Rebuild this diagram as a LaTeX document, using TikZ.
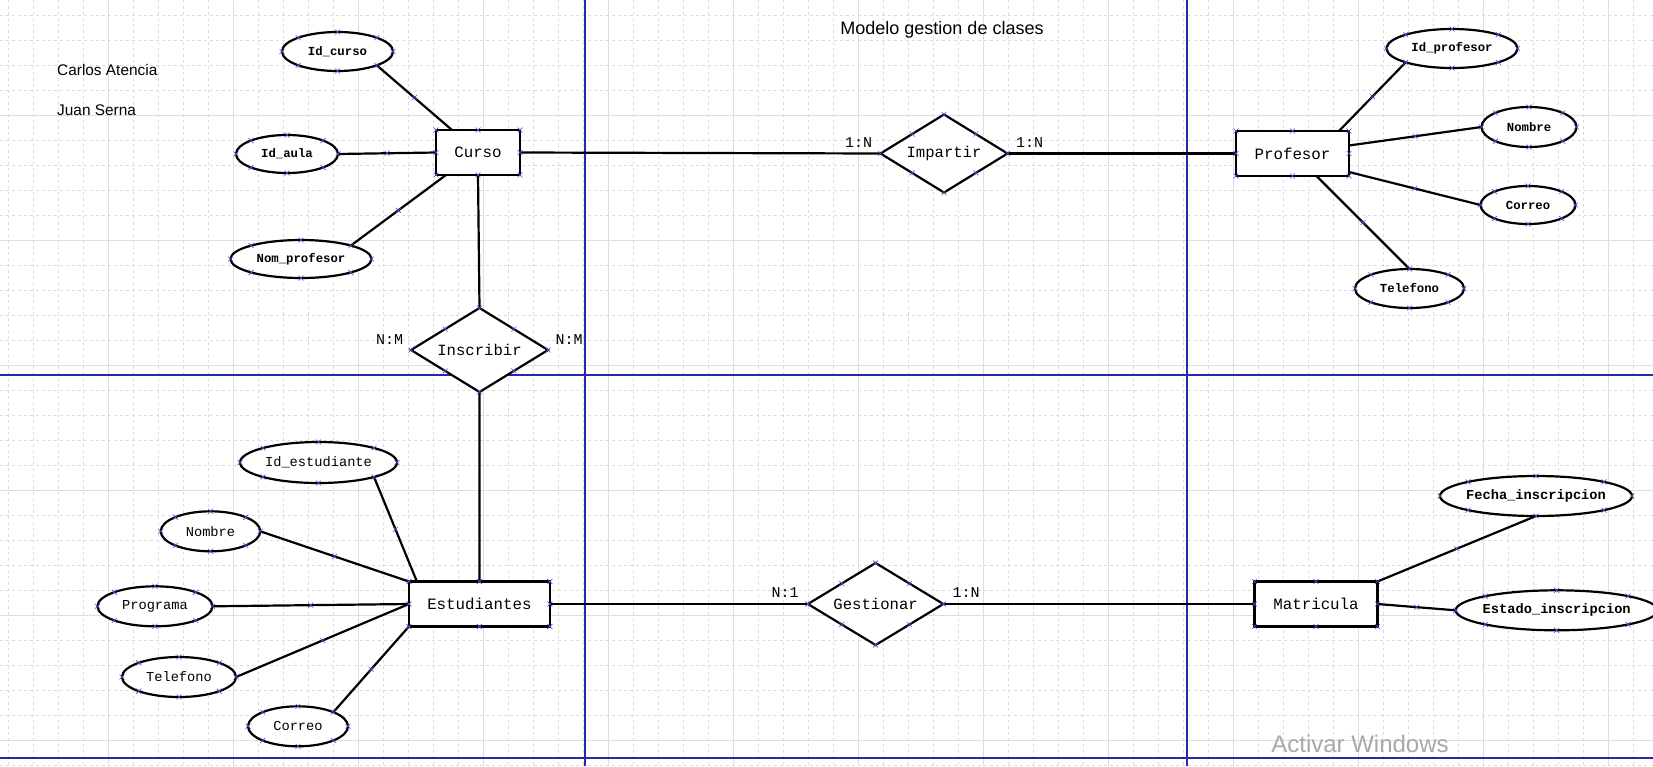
\documentclass[tikz,border=0pt]{standalone}
\usepackage{fontspec}
\setmainfont{Liberation Sans}
\newfontfamily\monof{Liberation Mono}
\usetikzlibrary{shapes.geometric,shapes.misc,calc}
\definecolor{gridmaj}{RGB}{212,226,226}
\definecolor{gridmin}{RGB}{214,222,222}
\definecolor{pageblue}{RGB}{40,40,170}
\definecolor{markblue}{RGB}{80,80,215}
\definecolor{wmgray}{RGB}{168,168,168}
\newcommand\allmarks[1]{\foreach \a in {north,south,east,west,north east,north west,south east,south west}{\node[xmk] at (#1.\a) {};}}
\begin{document}
\begin{tikzpicture}[x=1pt,y=-1pt,
  ent/.style={draw, fill=white, line width=2.2pt, rectangle, inner sep=0pt, outer sep=0pt, font=\monof\fontsize{15.8}{18}\selectfont},
  attr/.style={draw, fill=white, line width=2.2pt, ellipse, inner sep=0pt, outer sep=0pt},
  attrA/.style={attr, font=\monof\bfseries\fontsize{12.3}{14}\selectfont},
  attrB/.style={attr, font=\monof\fontsize{13.7}{16}\selectfont},
  attrC/.style={attr, font=\monof\bfseries\fontsize{13.7}{16}\selectfont},
  rel/.style={draw, fill=white, line width=2.2pt, diamond, inner sep=0pt, outer sep=0pt, font=\monof\fontsize{15.6}{18}\selectfont},
  card/.style={font=\monof\fontsize{15}{18}\selectfont, inner sep=0pt},
  conn/.style={line width=2.2pt},
  xmk/.style={cross out, draw=markblue, line width=0.6pt, minimum size=5pt, inner sep=0pt, outer sep=0pt},
  minorg/.style={draw=gridmin, line width=0.9pt, dash pattern=on 3pt off 3pt},
  majorg/.style={draw=gridmaj, line width=1.1pt},
  pageline/.style={draw=pageblue, line width=1.3pt},
  namestyle/.style={font=\fontsize{15.4}{18}\selectfont, inner sep=0pt, anchor=west},
]
\useasboundingbox (0,0) rectangle (1653,766);
\fill[white] (0,0) rectangle (1653,766);
% grid
\foreach \i in {0,...,66} \draw[minorg] ({8.5+25*\i},0) -- ({8.5+25*\i},766);
\foreach \j in {0,...,30} \draw[minorg] (0,{15.5+25*\j}) -- (1653,{15.5+25*\j});
\foreach \i in {0,...,13} \draw[majorg] ({-16.5+125*\i},0) -- ({-16.5+125*\i},766);
\foreach \j in {0,...,6} \draw[majorg] (0,{-9.5+125*\j}) -- (1653,{-9.5+125*\j});
% page borders
\draw[pageline] (585,0) -- (585,766);
\draw[pageline] (1187,0) -- (1187,766);
\draw[pageline] (0,375) -- (1653,375);
\draw[pageline] (0,758) -- (1653,758);

% texts
\node[font=\fontsize{18}{21}\selectfont, inner sep=0pt] (title) at (942,30) {Modelo gestion de clases};
\node[namestyle] (autor1) at (57,70) {Carlos Atencia};
\node[namestyle] (autor2) at (57,110) {Juan Serna};
\node[font=\fontsize{24}{28}\selectfont, text=wmgray, inner sep=0pt] (wm) at (1360,744) {Activar Windows};

% entities
\node[ent, minimum width=84pt, minimum height=45pt] (curso) at (478,152.5) {Curso};
\node[ent, minimum width=113pt, minimum height=45pt] (profesor) at (1292.5,153.5) {Profesor};
\node[ent, minimum width=141pt, minimum height=45pt] (estudiantes) at (479.4,604) {Estudiantes};
\node[ent, minimum width=123pt, minimum height=45pt] (matricula) at (1316,604) {Matricula};

% relationships
\node[rel, minimum width=137pt, minimum height=84pt] (inscribir) at (479.5,350) {\makebox[0pt]{Inscribir}};
\node[rel, minimum width=127pt, minimum height=78pt] (impartir) at (944,153.5) {\makebox[0pt]{Impartir}};
\node[rel, minimum width=135.5pt, minimum height=82pt] (gestionar) at (875.6,604) {\makebox[0pt]{Gestionar}};

% attributes
\node[attrA, minimum width=111pt, minimum height=39pt] (idcurso) at (337.5,51.5) {\makebox[0pt]{Id\_curso}};
\node[attrA, minimum width=102pt, minimum height=38pt] (idaula) at (287,154) {\makebox[0pt]{Id\_aula}};
\node[attrA, minimum width=141pt, minimum height=38pt] (nomprof) at (301,259) {\makebox[0pt]{Nom\_profesor}};
\node[attrA, minimum width=131pt, minimum height=39pt] (idprof) at (1452,48.5) {\makebox[0pt]{Id\_profesor}};
\node[attrA, minimum width=95pt, minimum height=40pt] (nombrep) at (1529,127) {\makebox[0pt]{Nombre}};
\node[attrA, minimum width=95pt, minimum height=38pt] (correop) at (1528,205) {\makebox[0pt]{Correo}};
\node[attrA, minimum width=109pt, minimum height=39pt] (telp) at (1409.5,288.5) {\makebox[0pt]{Telefono}};
\node[attrB, minimum width=157pt, minimum height=41pt] (idest) at (318.5,462.5) {\makebox[0pt]{Id\_estudiante}};
\node[attrB, minimum width=99.5pt, minimum height=40pt] (nombree) at (210.5,531.3) {\makebox[0pt]{Nombre}};
\node[attrB, minimum width=115pt, minimum height=40pt] (programa) at (155,606.3) {\makebox[0pt]{Programa}};
\node[attrB, minimum width=114pt, minimum height=40pt] (tele) at (179,677) {\makebox[0pt]{Telefono}};
\node[attrB, minimum width=100pt, minimum height=40pt] (correoe) at (298,726.3) {\makebox[0pt]{Correo}};
\node[attrC, minimum width=192pt, minimum height=40pt] (fecha) at (1536,496) {\makebox[0pt]{Fecha\_inscripcion}};
\node[attrC, minimum width=202pt, minimum height=40pt] (estado) at (1556.7,610.3) {\makebox[0pt]{Estado\_inscripcion}};

% cardinalities
\node[card] (cInsL) at (389.5,340) {N:M};
\node[card] (cInsR) at (569,339.5) {N:M};
\node[card] (cImpL) at (858.5,143) {1:N};
\node[card] (cImpR) at (1029.5,143) {1:N};
\node[card] (cGesL) at (785,592.7) {N:1};
\node[card] (cGesR) at (966,592.7) {1:N};

% relationship connectors
\draw[conn] (curso.south) -- (inscribir.north);
\draw[conn] (inscribir.south) -- (estudiantes.north);
\draw[conn] (curso.east) -- (impartir.west);
\draw[conn] (impartir.east) -- (profesor.west);
\draw[conn] (estudiantes.east) -- (gestionar.west);
\draw[conn] (gestionar.east) -- (matricula.west);

% attribute connectors
\draw[conn] (idcurso.south east) -- node[xmk]{} ($(curso.north west)+(16,0)$);
\draw[conn] (idaula.east) -- node[xmk]{} (curso.west);
\draw[conn] (nomprof.north east) -- node[xmk]{} ($(curso.south west)+(10,0)$);
\draw[conn] ($(profesor.north east)+(-10,0)$) -- node[xmk]{} (idprof.south west);
\draw[conn] ($(profesor.east)+(0,-8)$) -- node[xmk]{} (nombrep.west);
\draw[conn] ($(profesor.south east)+(0,-4)$) -- node[xmk]{} (correop.west);
\draw[conn] ($(profesor.south)+(24,0)$) -- node[xmk]{} (telp.north);
\draw[conn] (idest.south east) -- node[xmk]{} ($(estudiantes.north west)+(8,0)$);
\draw[conn] (nombree.east) -- node[xmk]{} (estudiantes.north west);
\draw[conn] (programa.east) -- node[xmk]{} (estudiantes.west);
\draw[conn] (tele.east) -- node[xmk]{} (estudiantes.west);
\draw[conn] (correoe.north east) -- node[xmk]{} (estudiantes.south west);
\draw[conn] (matricula.north east) -- node[xmk]{} (fecha.south);
\draw[conn] (matricula.east) -- node[xmk]{} (estado.west);

% connection point markers
\foreach \n in {curso,profesor,estudiantes,matricula,inscribir,impartir,gestionar,idcurso,idaula,nomprof,idprof,nombrep,correop,telp,idest,nombree,programa,tele,correoe,fecha,estado}{\allmarks{\n}}
\end{tikzpicture}
\end{document}
